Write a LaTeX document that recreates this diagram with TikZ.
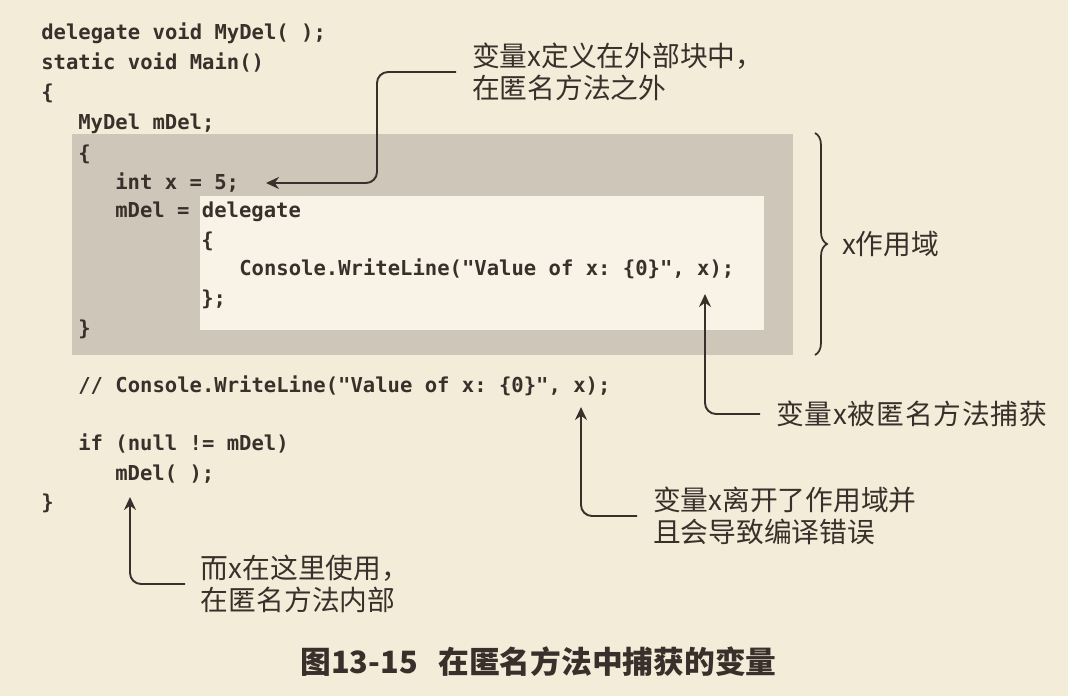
\documentclass[tikz,border=0pt]{standalone}
\usepackage{fontspec}
\setmonofont{DejaVu Sans Mono}
\newfontfamily\cjk{Noto Sans CJK SC}
\usepackage{tikz}
\usetikzlibrary{positioning, arrows.meta, decorations.pathreplacing}
\definecolor{paper}{HTML}{F3ECD9}
\definecolor{blockgray}{HTML}{CEC7B9}
\definecolor{holefill}{HTML}{F8F3E6}
\definecolor{ink}{HTML}{3A302B}

\begin{document}
\begin{tikzpicture}[x=0.02cm, y=-0.02cm,
code line/.style={anchor=base west, inner sep=0pt, text=ink,
  font=\ttfamily\bfseries\fontsize{11.7pt}{14pt}\selectfont},
note/.style={anchor=west, align=left, inner sep=0pt, outer xsep=0.32cm, text=ink,
  font=\cjk\fontsize{15.8pt}{18.6pt}\selectfont},
caption/.style={anchor=base west, inner sep=0pt, text=ink,
  font=\cjk\bfseries\fontsize{17.5pt}{20pt}\selectfont},
callout/.style={draw=ink, line width=1.1pt, rounded corners=0.22cm,
  -{Stealth[length=0.26cm, width=0.24cm]}}]

\useasboundingbox[fill=paper] (0,0) rectangle (1068,696);
\fill[blockgray] (72,134) rectangle (793,355);
\fill[holefill] (200,196) rectangle (764,330);

\node[code line] (c1) at (41,40) {delegate void MyDel( );};
\node[code line] (c2) at (41,70) {static void Main()};
\node[code line] (c3) at (41,100) {\{};
\node[code line] (c4) at (78,130) {MyDel mDel;};
\node[code line] (c5) at (78,160) {\{};
\node[code line] (c6) at (115,189) {int x = 5;};
\node[code line] (c7) at (115,217) {mDel = delegate};
\node[code line] (c8) at (201,247) {\{};
\node[code line] (c9) at (239,275) {Console.WriteLine("Value of x: \{0\}", x);};
\node[code line] (c10) at (201,305) {\};};
\node[code line] (c11) at (78,335) {\}};
\node[code line] (c12) at (78,392) {// Console.WriteLine("Value of x: \{0\}", x);};
\node[code line] (c13) at (78,450) {if (null != mDel)};
\node[code line] (c14) at (115,480) {mDel( );};
\node[code line] (c15) at (41,509) {\}};

\coordinate (t1) at (266,183);
\coordinate (k1) at (377,183);
\coordinate (t2) at (705,294);
\coordinate (t3) at (581,407);
\coordinate (t4) at (130,497);
\coordinate (bt) at (826,244);

\node[note] (n1) at (456,72) {变量x定义在外部块中，\\在匿名方法之外};
\node[note, right=0pt of bt] (n2) {x作用域};
\node[note] (n3) at (760,414) {\addfontfeature{LetterSpace=3}变量x被匿名方法捕获};
\node[note] (n4) at (637,516) {变量x离开了作用域并\\且会导致编译错误};
\node[note] (n5) at (185,584) {而x在这里使用，\\在匿名方法内部};

\draw[callout] (n1.west) -| (k1) -- (t1);
\draw[callout] (n3.west) -| (t2);
\draw[callout] (n4.west) -| (t3);
\draw[callout] (n5.west) -| (t4);
\draw[ink, line width=1pt, decorate, decoration={brace, amplitude=0.24cm}] (815,133) -- (815,355);

\node[caption] (fig) at (300,673) {图13-15};
\node[caption] (title) at (438,673) {在匿名方法中捕获的变量};
\end{tikzpicture}
\end{document}
